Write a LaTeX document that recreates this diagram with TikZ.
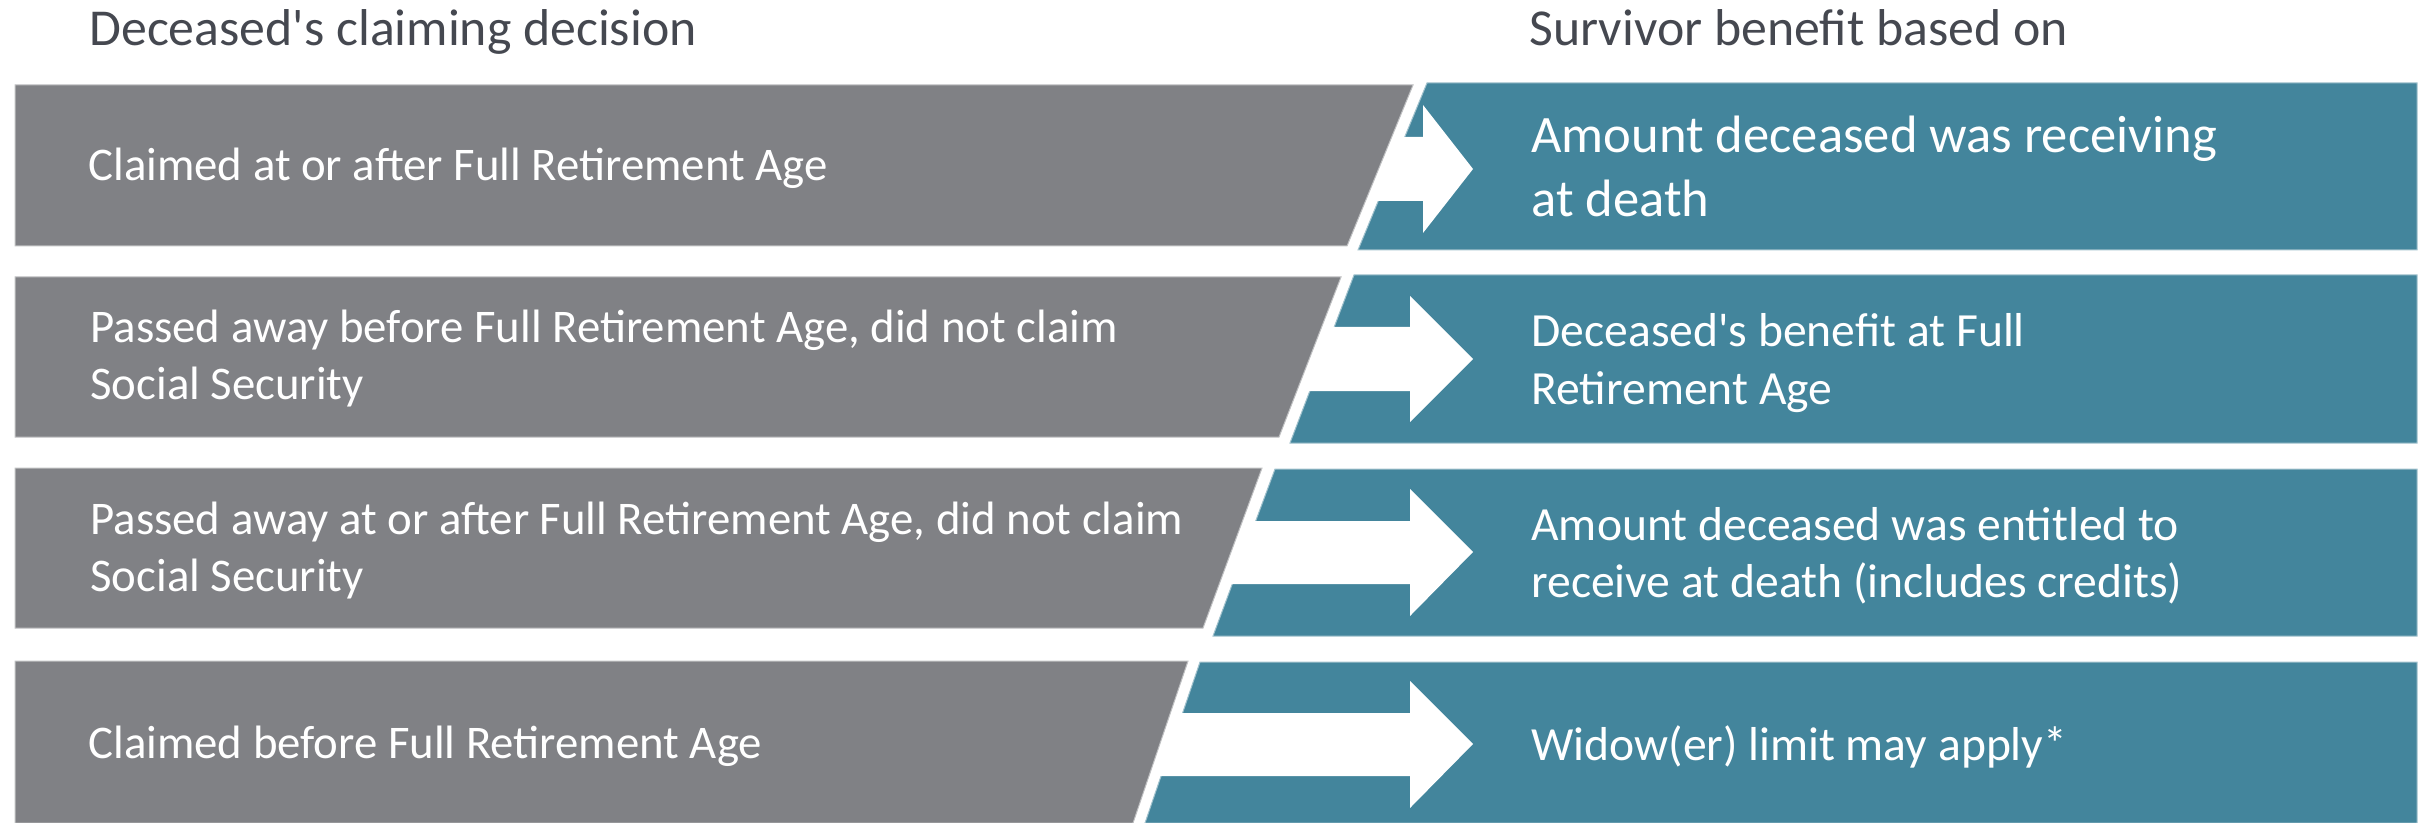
\documentclass[tikz,border=0pt]{standalone}
\usepackage{fontspec}
\setmainfont{Carlito}
\definecolor{boxgray}{HTML}{808185}
\definecolor{boxteal}{HTML}{43859C}
\definecolor{headtext}{HTML}{454850}
\newcommand{\twolines}[2]{\begin{tabular}[t]{@{}l@{}}#1\\#2\end{tabular}}
\newcommand{\sq}{\textquotesingle}
\begin{document}
\begin{tikzpicture}[x=0.5pt,y=-0.5pt,
  graybox/.style={fill=boxgray, draw=boxgray!50!white, line width=0.5pt},
  tealbox/.style={fill=boxteal, draw=boxteal!50!white, line width=0.5pt},
  arrowshape/.style={fill=white, draw=none},
  headlabel/.style={anchor=base west, inner sep=0pt, text=headtext, font=\fontsize{25.9}{31}\selectfont},
  leftlabel/.style={anchor=base west, inner sep=0pt, text=white, font=\fontsize{23.4}{28.5}\selectfont},
  rightlabel/.style={anchor=base west, inner sep=0pt, text=white, font=\fontsize{23.8}{28.5}\selectfont},
  bigrightlabel/.style={anchor=base west, inner sep=0pt, text=white, font=\fontsize{26.3}{32}\selectfont}
]
\useasboundingbox (0,0) rectangle (2428,823);

% teal target boxes
\fill[tealbox] (1427,83) -- (2417,83) -- (2417,250) -- (1358,250) -- cycle;
\fill[tealbox] (1354,275) -- (2417,275) -- (2417,443) -- (1290,443) -- cycle;
\fill[tealbox] (1275,469) -- (2417,469) -- (2417,636) -- (1213,636) -- cycle;
\fill[tealbox] (1200,662) -- (2417,662) -- (2417,823) -- (1145,823) -- cycle;

% white arrows
\fill[arrowshape] (1340,137) -- (1423,137) -- (1423,105) -- (1473,169) -- (1423,233) -- (1423,201) -- (1340,201) -- cycle;
\fill[arrowshape] (1270,327) -- (1410,327) -- (1410,296) -- (1473,359) -- (1410,422) -- (1410,391) -- (1270,391) -- cycle;
\fill[arrowshape] (1190,521) -- (1410,521) -- (1410,489) -- (1473,552) -- (1410,616) -- (1410,584) -- (1190,584) -- cycle;
\fill[arrowshape] (1120,713) -- (1410,713) -- (1410,681) -- (1473,744) -- (1410,808) -- (1410,776) -- (1120,776) -- cycle;

% gray decision boxes
\filldraw[graybox] (15,85) -- (1413,85) -- (1347,246) -- (15,246) -- cycle;
\filldraw[graybox] (15,277) -- (1341,277) -- (1279,437) -- (15,437) -- cycle;
\filldraw[graybox] (15,468) -- (1262,468) -- (1203,628) -- (15,628) -- cycle;
\filldraw[graybox] (15,661) -- (1188,661) -- (1133,823) -- (15,823) -- cycle;

% headings
\node[headlabel] (hleft) at (89,46) {Deceased\sq s claiming decision};
\node[headlabel] (hright) at (1529,46) {Survivor benefit based on};

% left texts
\node[leftlabel] (l1) at (88,181) {Claimed at or after Full Retirement Age};
\node[leftlabel] (l2) at (90,343) {\twolines{Passed away before Full Retirement Age, did not claim}{Social Security}};
\node[leftlabel] (l3) at (90,534) {\twolines{Passed away at or after Full Retirement Age, did not claim}{Social Security}};
\node[leftlabel] (l4) at (88,758) {Claimed before Full Retirement Age};

% right texts
\node[bigrightlabel] (r1) at (1531,153) {\twolines{Amount deceased was receiving}{at death}};
\node[rightlabel] (r2) at (1531,347) {\twolines{Deceased\sq s benefit at Full}{Retirement Age}};
\node[rightlabel] (r3) at (1531,540) {\twolines{Amount deceased was entitled to}{receive at death (includes credits)}};
\node[rightlabel] (r4) at (1531,760) {Widow(er) limit may apply*};
\end{tikzpicture}
\end{document}
